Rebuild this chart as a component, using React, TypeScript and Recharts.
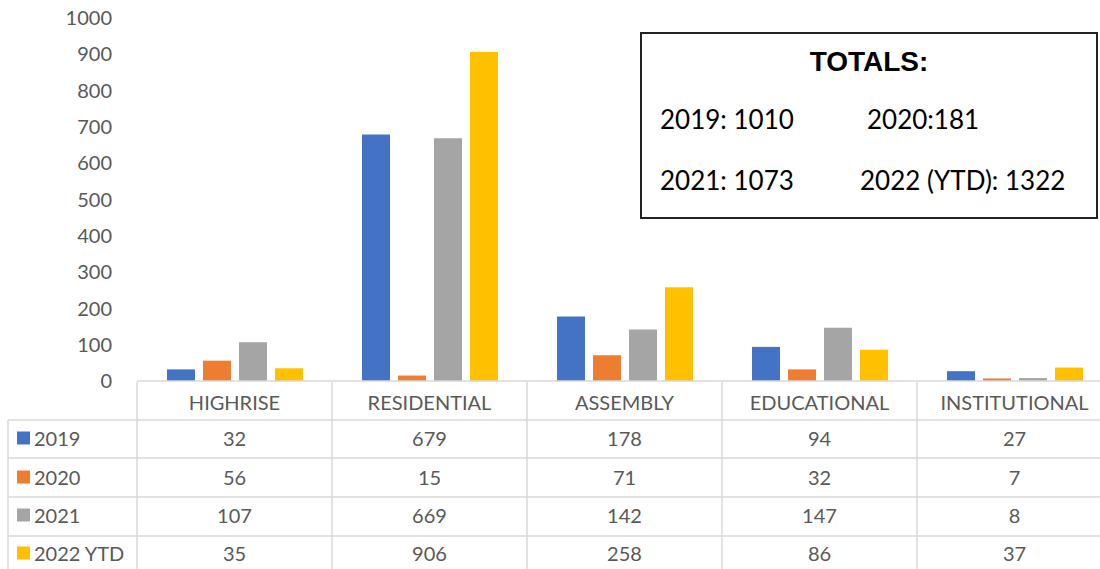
import { Bar, BarChart, XAxis, YAxis } from 'recharts';

const categories = ['HIGHRISE', 'RESIDENTIAL', 'ASSEMBLY', 'EDUCATIONAL', 'INSTITUTIONAL'];
const y2019 = [32, 679, 178, 94, 27];
const y2020 = [56, 15, 71, 32, 7];
const y2021 = [107, 669, 142, 147, 8];
const y2022 = [35, 906, 258, 86, 37];
const yTicks = [0, 100, 200, 300, 400, 500, 600, 700, 800, 900, 1000];

const series = [
  { key: 'y2019', label: '2019', color: '#4472C4', values: y2019 },
  { key: 'y2020', label: '2020', color: '#ED7D31', values: y2020 },
  { key: 'y2021', label: '2021', color: '#A5A5A5', values: y2021 },
  { key: 'y2022', label: '2022 YTD', color: '#FFC000', values: y2022 },
];

const totals = [
  { label: '2019: 1010', left: 660, top: 119 },
  { label: '2020:181', left: 867, top: 119 },
  { label: '2021: 1073', left: 660, top: 180 },
  { label: '2022 (YTD): 1322', left: 860, top: 180 },
];

const data = categories.map((name, i) => {
  const row: Record<string, string | number> = { name };
  series.forEach((s) => (row[s.key] = s.values[i]));
  return row;
});

const FONT = 'Lato, "Open Sans", sans-serif';
const TEXT = '#595959';
const GRID = '#d9d9d9';
const COL_W = 195;
const ROW_LINES = [38, 76, 115, 154, 194];
const ROW_TEXT = [57, 96, 134, 172];

function TableTick(props: any) {
  const { x, y, payload } = props;
  const i = categories.indexOf(payload.value);
  const left = x - COL_W / 2;
  const top = y + 1;
  return (
    <g>
      <line x1={left} x2={left} y1={top} y2={top + 200} stroke={GRID} strokeWidth={1.5} />
      {i === categories.length - 1 && (
        <line x1={left + COL_W} x2={left + COL_W} y1={top} y2={top + 200} stroke={GRID} strokeWidth={1.5} />
      )}
      {ROW_LINES.map((d) => (
        <line key={d} x1={left} x2={left + COL_W} y1={top + d} y2={top + d} stroke={GRID} strokeWidth={1.5} />
      ))}
      <text x={x} y={y + 21} textAnchor="middle" dominantBaseline="central" fontSize={20} fontFamily={FONT} fill={TEXT}>
        {payload.value}
      </text>
      {series.map((s, r) => (
        <text
          key={s.key}
          x={x}
          y={y + ROW_TEXT[r]}
          textAnchor="middle"
          dominantBaseline="central"
          fontSize={20}
          fontFamily={FONT}
          fill={TEXT}
        >
          {s.values[i]}
        </text>
      ))}
      {i === 0 && (
        <g>
          <line x1={8} x2={8} y1={top + ROW_LINES[0]} y2={top + 200} stroke={GRID} strokeWidth={1.5} />
          {ROW_LINES.map((d) => (
            <line key={d} x1={8} x2={left} y1={top + d} y2={top + d} stroke={GRID} strokeWidth={1.5} />
          ))}
          {series.map((s, r) => (
            <g key={s.key}>
              <rect x={17} y={y + ROW_TEXT[r] - 6.5} width={13} height={13} fill={s.color} />
              <text x={34} y={y + ROW_TEXT[r]} dominantBaseline="central" fontSize={20} fontFamily={FONT} fill={TEXT}>
                {s.label}
              </text>
            </g>
          ))}
        </g>
      )}
    </g>
  );
}

export default function App() {
  return (
    <div style={{ position: 'absolute', left: 0, top: 0, width: 1100, height: 569, overflow: 'hidden', background: '#fff' }}>
      <BarChart
        width={137 + COL_W * 5}
        height={569}
        data={data}
        margin={{ top: 18, right: 0, bottom: 0, left: 0 }}
        barSize={28}
        barGap={8}
      >
        <XAxis
          dataKey="name"
          height={188}
          tickLine={false}
          tickSize={0}
          tickMargin={0}
          axisLine={{ stroke: GRID, strokeWidth: 1.5 }}
          interval={0}
          tick={<TableTick />}
        />
        <YAxis
          width={137}
          domain={[0, 1000]}
          ticks={yTicks}
          tickLine={false}
          axisLine={false}
          tickSize={0}
          tickMargin={25}
          tick={{ fontSize: 20, fontFamily: FONT, fill: TEXT }}
        />
        {series.map((s) => (
          <Bar key={s.key} dataKey={s.key} fill={s.color} isAnimationActive={false} />
        ))}
      </BarChart>
      <div
        style={{
          position: 'absolute',
          left: 640,
          top: 32,
          width: 454,
          height: 183,
          border: '2px solid #222',
          boxSizing: 'content-box',
          background: '#fff',
          fontFamily: FONT,
          color: '#000',
        }}
      >
        <div
          style={{
            position: 'absolute',
            left: 0,
            right: 0,
            top: 28,
            transform: 'translateY(-50%)',
            textAlign: 'center',
            fontFamily: '"Liberation Sans", Arial, sans-serif',
            fontWeight: 700,
            fontSize: 28,
          }}
        >
          TOTALS:
        </div>
        {totals.map((t) => (
          <div
            key={t.label}
            style={{
              position: 'absolute',
              left: t.left - 642,
              top: t.top - 34,
              transform: 'translateY(-50%)',
              fontSize: 26,
              whiteSpace: 'nowrap',
            }}
          >
            {t.label}
          </div>
        ))}
      </div>
    </div>
  );
}
